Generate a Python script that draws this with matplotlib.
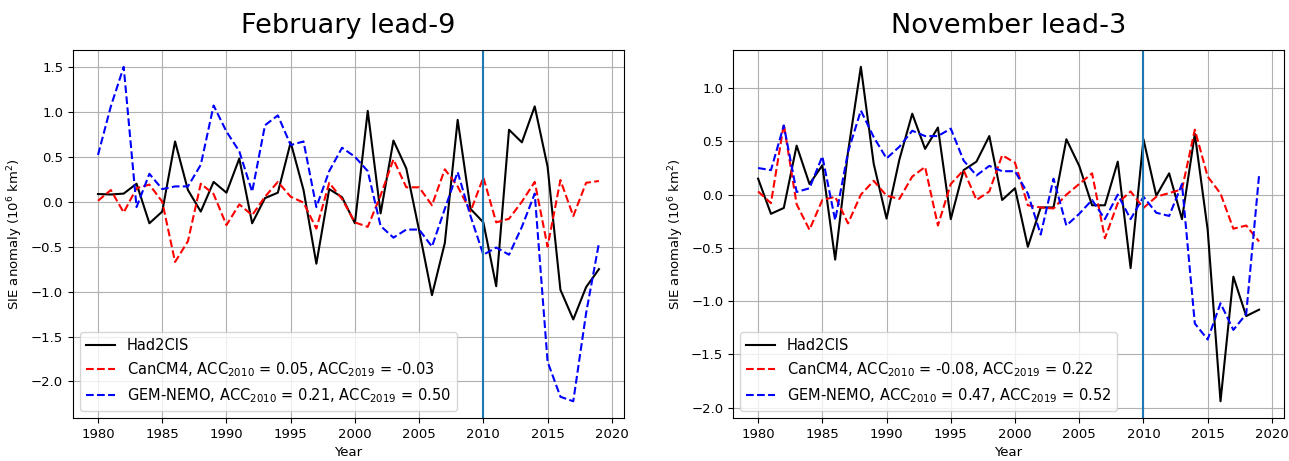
import matplotlib
matplotlib.use('Agg')
import matplotlib.pyplot as plt
import numpy as np

years = np.arange(1980, 2020)

# February lead-9
had_feb = [0.085, 0.08, 0.09, 0.20, -0.24, -0.11, 0.67, 0.13, -0.11, 0.22,
           0.10, 0.48, -0.24, 0.04, 0.10, 0.66, 0.13, -0.69, 0.14, 0.05,
           -0.24, 1.01, -0.13, 0.68, 0.37, -0.32, -1.04, -0.46, 0.91, -0.08,
           -0.23, -0.94, 0.80, 0.66, 1.06, 0.39, -0.98, -1.31, -0.95, -0.75]
can_feb = [0.01, 0.13, -0.12, 0.15, 0.19, 0.0, -0.67, -0.44, 0.20, 0.085,
           -0.26, -0.03, -0.15, 0.055, 0.22, 0.055, -0.01, -0.30, 0.21, 0.03,
           -0.23, -0.28, 0.07, 0.47, 0.16, 0.16, -0.04, 0.36, 0.17, -0.11,
           0.27, -0.23, -0.19, 0.0, 0.22, -0.50, 0.24, -0.16, 0.21, 0.23]
gem_feb = [0.52, 1.06, 1.50, -0.06, 0.31, 0.14, 0.17, 0.17, 0.41, 1.07,
           0.78, 0.56, 0.11, 0.85, 0.96, 0.63, 0.67, -0.06, 0.34, 0.60,
           0.50, 0.34, -0.27, -0.40, -0.31, -0.31, -0.50, -0.08, 0.33, -0.16,
           -0.59, -0.51, -0.59, -0.28, 0.09, -1.78, -2.17, -2.22, -1.24, -0.46]

# November lead-3
had_nov = [0.15, -0.18, -0.125, 0.46, 0.10, 0.275, -0.61, 0.40, 1.20, 0.29,
           -0.225, 0.33, 0.76, 0.43, 0.63, -0.23, 0.23, 0.31, 0.55, -0.05,
           0.06, -0.49, -0.12, -0.12, 0.52, 0.27, -0.10, -0.10, 0.31, -0.69,
           0.52, -0.01, 0.20, -0.23, 0.57, -0.33, -1.94, -0.77, -1.14, -1.08]
can_nov = [0.03, -0.08, 0.66, -0.09, -0.33, -0.05, -0.02, -0.27, 0.0, 0.13,
           -0.01, -0.04, 0.17, 0.26, -0.29, 0.10, 0.23, -0.05, 0.03, 0.37,
           0.30, -0.10, -0.12, -0.13, 0.0, 0.10, 0.20, -0.41, -0.08, 0.03,
           -0.125, -0.02, 0.015, 0.05, 0.61, 0.17, 0.01, -0.32, -0.29, -0.44]
gem_nov = [0.25, 0.23, 0.65, 0.025, 0.06, 0.36, -0.24, 0.40, 0.79, 0.54,
           0.34, 0.45, 0.60, 0.55, 0.55, 0.62, 0.32, 0.18, 0.27, 0.22,
           0.22, 0.01, -0.375, 0.15, -0.29, -0.18, -0.05, -0.23, 0.0, -0.23,
           -0.02, -0.17, -0.20, 0.10, -1.21, -1.36, -1.02, -1.27, -1.12, 0.18]

titles = ['February lead-9', 'November lead-3']
acc_can = [('0.05', '-0.03'), ('-0.08', '0.22')]
acc_gem = [('0.21', '0.50'), ('0.47', '0.52')]
split_year = 2010

fig = plt.figure(figsize=(12.89, 4.61), dpi=100)
ax1 = fig.add_axes([0.0566, 0.0933, 0.4275, 0.798])
ax2 = fig.add_axes([0.5687, 0.0933, 0.4275, 0.798])

panels = [(ax1, had_feb, can_feb, gem_feb), (ax2, had_nov, can_nov, gem_nov)]
for i, (ax, had, can, gem) in enumerate(panels):
    ax.plot(years, had, color='black', lw=1.5, label='Had2CIS')
    ax.plot(years, can, color='red', ls='--', lw=1.5,
            label=r'CanCM4, ACC$_{2010}$ = %s, ACC$_{2019}$ = %s' % acc_can[i])
    ax.plot(years, gem, color='blue', ls='--', lw=1.5,
            label=r'GEM-NEMO, ACC$_{2010}$ = %s, ACC$_{2019}$ = %s' % acc_gem[i])
    ax.axvline(split_year, color='#1f77b4', lw=1.5)
    ax.grid(True)
    ax.set_xticks(np.arange(1980, 2021, 5))
    ax.tick_params(labelsize=9.5)
    ax.set_xlabel('Year', fontsize=9.5)
    ax.set_ylabel(r'SIE anomaly (10$^6$ km$^2$)', fontsize=9.5)
    ax.set_title(titles[i], fontsize=19.5, pad=12)
    ax.legend(loc='lower left', fontsize=10.5)

fig.savefig('out.png', dpi=100)
